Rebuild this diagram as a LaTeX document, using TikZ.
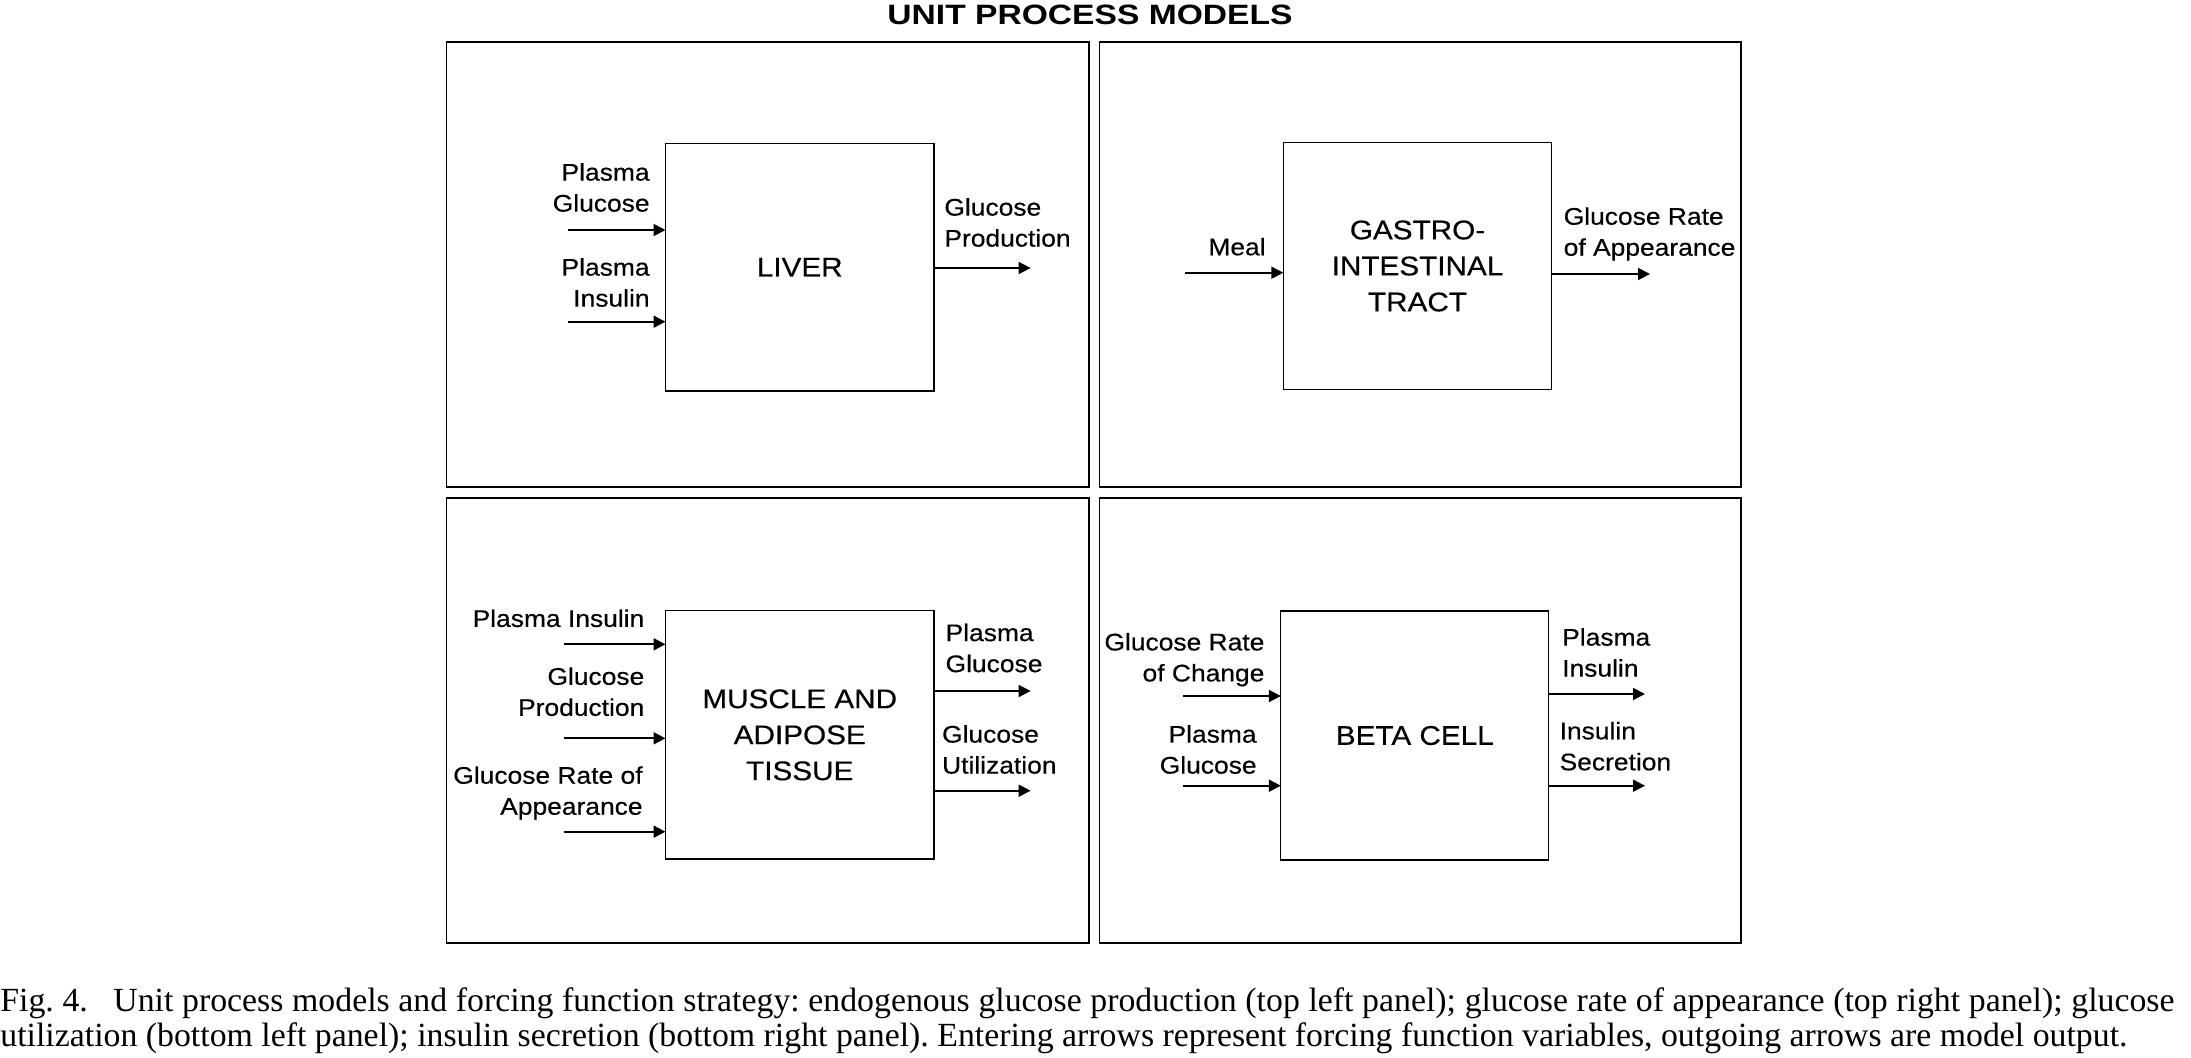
\documentclass[tikz,border=0pt]{standalone}
\usepackage{fontspec}
\setmainfont{Liberation Serif}
\newfontfamily\lblfont[FakeStretch=1.1,FakeBold=0.4]{Liberation Sans}
\newfontfamily\ttlfont[FakeStretch=1.2]{Liberation Sans}
\usetikzlibrary{arrows.meta}
\frenchspacing
\begin{document}
\begin{tikzpicture}[x=0.5pt,y=-0.5pt,
  panel/.style={draw, line width=0.9pt, inner sep=0pt, outer sep=0pt},
  unit/.style={draw, line width=0.65pt, inner sep=0pt, outer sep=0pt, align=center,
    font=\lblfont\fontsize{13.5pt}{18pt}\selectfont},
  lbl/.style={inner sep=0pt, font=\lblfont\fontsize{12pt}{15.5pt}\selectfont},
  arr/.style={line width=0.95pt, -{Triangle[length=6pt,width=6pt]}},
  captext/.style={anchor=base west, inner sep=0pt, font=\fontsize{16.9pt}{20pt}\selectfont}]
\useasboundingbox (0,0) rectangle (2191,1057);

% title
\node[inner sep=0pt, font=\ttlfont\bfseries\fontsize{14pt}{16pt}\selectfont] (title) at (1090,15) {UNIT PROCESS MODELS};

% panels
\node[panel, minimum width=321.25pt, minimum height=222.5pt] (p1) at (767.75,264.2) {};
\node[panel, minimum width=320.9pt, minimum height=222.5pt] (p2) at (1420.4,264.2) {};
\node[panel, minimum width=321.25pt, minimum height=222.2pt] (p3) at (767.75,720.5) {};
\node[panel, minimum width=320.9pt, minimum height=222.2pt] (p4) at (1420.4,720.5) {};

% unit boxes
\node[unit, minimum width=134.25pt, minimum height=123.85pt] (liver) at (799.75,267.15) {LIVER};
\node[unit, minimum width=134.2pt, minimum height=123.3pt] (gi) at (1417.5,266) {GASTRO-\\INTESTINAL\\TRACT};
\node[unit, minimum width=134.25pt, minimum height=124.15pt] (muscle) at (799.75,734.85) {MUSCLE AND\\ADIPOSE\\TISSUE};
\node[unit, minimum width=134pt, minimum height=124.5pt] (beta) at (1414.8,735.5) {BETA CELL};

% ---- liver panel
\node[lbl, anchor=east, align=right] (lpg) at (650,187.5) {Plasma\\Glucose};
\node[lbl, anchor=east, align=right] (lpi) at (650,282.5) {Plasma\\Insulin};
\node[lbl, anchor=west, align=left] (lgp) at (944,222.5) {Glucose\\Production};
\coordinate (liA) at (568,230);
\coordinate (liB) at (568,321.7);
\coordinate (loA) at (1030.6,268);
\draw[arr] (liA) -- (liA -| liver.west);
\draw[arr] (liB) -- (liB -| liver.west);
\draw[arr] (liver.east |- loA) -- (loA);

% ---- GI panel
\node[lbl, anchor=east] (meal) at (1266,246.7) {Meal};
\node[lbl, anchor=west, align=left] (gra) at (1563.3,234) {Glucose Rate\\of Appearance};
\coordinate (giA) at (1185,272.7);
\coordinate (goA) at (1650,274);
\draw[arr] (giA) -- (giA -| gi.west);
\draw[arr] (gi.east |- goA) -- (goA);

% ---- muscle panel
\node[lbl, anchor=east] (mpi) at (644.7,618.3) {Plasma Insulin};
\node[lbl, anchor=east, align=right] (mgp) at (644.7,691.7) {Glucose\\Production};
\node[lbl, anchor=east, align=right] (mgr) at (643,793) {Glucose Rate of\\Appearance};
\node[lbl, anchor=west, align=left] (mpg) at (945.2,648) {Plasma\\Glucose};
\node[lbl, anchor=west, align=left] (mgu) at (941.7,749.5) {Glucose\\Utilization};
\coordinate (miA) at (563.6,644.3);
\coordinate (miB) at (563.6,738.3);
\coordinate (miC) at (563.6,831.7);
\coordinate (moA) at (1030.6,691);
\coordinate (moB) at (1030.6,790.7);
\draw[arr] (miA) -- (miA -| muscle.west);
\draw[arr] (miB) -- (miB -| muscle.west);
\draw[arr] (miC) -- (miC -| muscle.west);
\draw[arr] (muscle.east |- moA) -- (moA);
\draw[arr] (muscle.east |- moB) -- (moB);

% ---- beta cell panel
\node[lbl, anchor=east, align=right] (bgr) at (1264.8,659.7) {Glucose Rate\\of Change};
\node[lbl, anchor=east, align=right] (bpg) at (1257,749.5) {Plasma\\Glucose};
\node[lbl, anchor=west, align=left] (bpi) at (1561.8,652.5) {Plasma\\Insulin};
\node[lbl, anchor=west, align=left] (bis) at (1559.2,746.2) {Insulin\\Secretion};
\coordinate (biA) at (1183.2,696);
\coordinate (biB) at (1183.2,785.7);
\coordinate (boA) at (1645,694);
\coordinate (boB) at (1645,785.7);
\draw[arr] (biA) -- (biA -| beta.west);
\draw[arr] (biB) -- (biB -| beta.west);
\draw[arr] (beta.east |- boA) -- (boA);
\draw[arr] (beta.east |- boB) -- (boB);

% ---- caption
\node[captext] (cap1) at (0,1011) {\makebox[1087pt][s]{Fig. 4.\ \enspace Unit process models and forcing function strategy: endogenous glucose production (top left panel); glucose rate of appearance (top right panel); glucose}};
\node[captext] (cap2) at (0,1046.7) {utilization (bottom left panel); insulin secretion (bottom right panel). Entering arrows represent forcing function variables, outgoing arrows are model output.};
\end{tikzpicture}
\end{document}
